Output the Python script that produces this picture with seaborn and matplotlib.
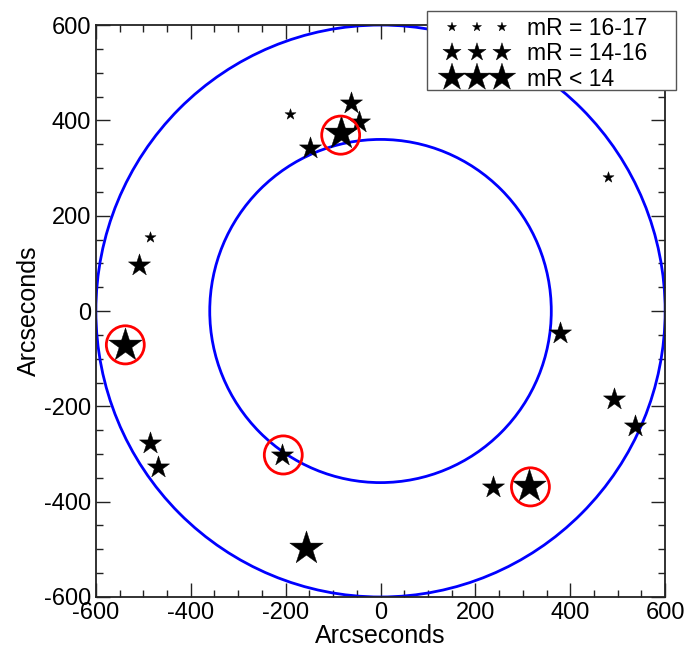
import matplotlib
matplotlib.use("Agg")
import matplotlib.pyplot as plt
from matplotlib.patches import Circle, Rectangle
from matplotlib.ticker import MultipleLocator
import seaborn as sns
import pandas as pd

# Star positions (arcsec) grouped by R-band magnitude
faint_x = [-190, -485, 479]
faint_y = [413, 155, 281]

mid_x = [-63, -46, -148, -510, -485, -470, -207, 378, 493, 536, 238]
mid_y = [436, 396, 342, 96, -277, -327, -302, -46, -185, -241, -369]

bright_x = [-84, -538, 312, -158]
bright_y = [373, -71, -367, -497]

# Highlighted targets (red rings)
ring_x = [-84, -538, -205, 316]
ring_y = [369, -71, -302, -369]
ring_r = 40

# Field boundaries
outer_r = 600
inner_r = 360

groups = ["mR = 16-17", "mR = 14-16", "mR < 14"]
sizes = [70, 280, 640]

df = pd.concat([
    pd.DataFrame({"x": faint_x, "y": faint_y, "mag": groups[0]}),
    pd.DataFrame({"x": mid_x, "y": mid_y, "mag": groups[1]}),
    pd.DataFrame({"x": bright_x, "y": bright_y, "mag": groups[2]}),
])

sns.set_style("white")
plt.rcParams["font.family"] = ["Liberation Sans", "DejaVu Sans"]
plt.rcParams["text.color"] = "black"
plt.rcParams["axes.labelcolor"] = "black"
plt.rcParams["xtick.color"] = "black"
plt.rcParams["ytick.color"] = "black"

W, H = 685, 647
fig = plt.figure(figsize=(W / 100, H / 100), dpi=100)
ax = fig.add_axes([0.140, 0.0773, 0.831, 0.884])

for r in (outer_r, inner_r):
    ax.add_patch(Circle((0, 0), r, fill=False, edgecolor="#0000ff", lw=2.0, zorder=2))

for g, s in zip(groups, sizes):
    sub = df[df["mag"] == g]
    sns.scatterplot(data=sub, x="x", y="y", marker="*", s=s, color="black",
                    edgecolor="black", linewidth=0.3, ax=ax, label=g, zorder=3)

for cx, cy in zip(ring_x, ring_y):
    ax.add_patch(Circle((cx, cy), ring_r, fill=False, edgecolor="red", lw=2.0, zorder=4))

ax.set_xlim(-600, 600)
ax.set_ylim(-600, 600)
ax.xaxis.set_major_locator(MultipleLocator(200))
ax.yaxis.set_major_locator(MultipleLocator(200))
ax.xaxis.set_minor_locator(MultipleLocator(50))
ax.yaxis.set_minor_locator(MultipleLocator(50))
ax.tick_params(which="both", direction="in", top=True, right=True,
               bottom=True, left=True, color="#222222", width=1.0,
               labelsize=17, labelcolor="black")
ax.tick_params(which="major", length=10)
ax.tick_params(which="minor", length=5)
ax.set_xticklabels([f"{int(v)}" for v in ax.get_xticks()])
ax.set_yticklabels([f"{int(v)}" for v in ax.get_yticks()])
for sp in ax.spines.values():
    sp.set_color("#222222")
    sp.set_linewidth(1.3)

ax.set_xlabel("Arcseconds", fontsize=18, labelpad=0)
ax.set_ylabel("Arcseconds", fontsize=18, labelpad=2)

# Move the seaborn legend entries to a figure legend drawn over a plain box
handles, labels = ax.get_legend_handles_labels()
ax.get_legend().remove()

fs = 16.5
fs_px = fs * 100 / 72
anchor_x = 452 - 0.3 * fs_px
box = Rectangle((427 / W, 1 - 90 / H), (676 - 427) / W, (90 - 11) / H,
                transform=fig.transFigure, facecolor="white",
                edgecolor="#555555", lw=1.0, zorder=4)
fig.patches.append(box)

leg = fig.legend(handles, labels, scatterpoints=3, loc="upper left",
                 bbox_to_anchor=(anchor_x / W, 1 - 17 / H),
                 bbox_transform=fig.transFigure, borderaxespad=0, borderpad=0,
                 fontsize=fs, frameon=False, handletextpad=0.8,
                 labelspacing=0.1, handlelength=2.78, markerscale=0.82,
                 scatteryoffsets=[0.5])
leg.set_zorder(5)
for t in leg.get_texts():
    t.set_color("black")

fig.savefig("out.png", dpi=100, facecolor="white")
